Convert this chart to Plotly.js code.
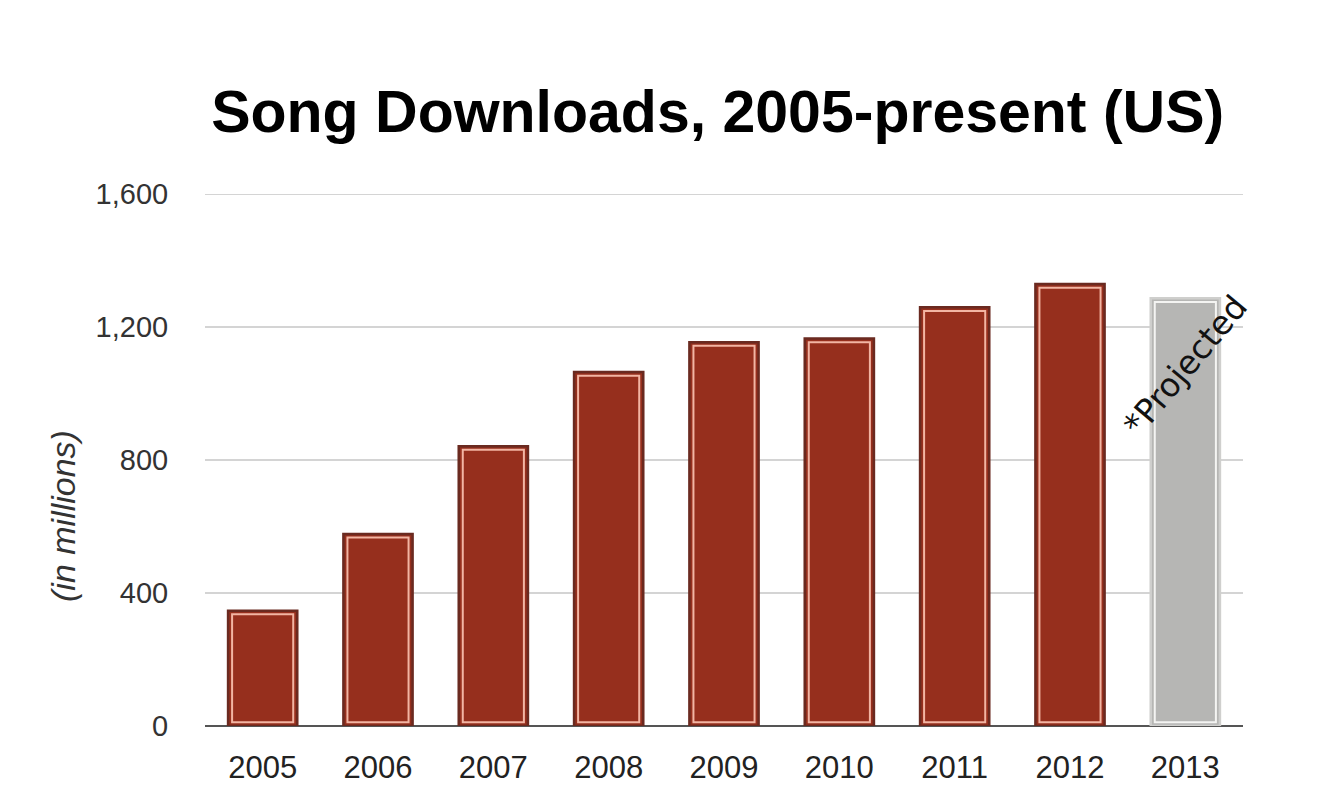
<!DOCTYPE html>
<html>
<head>
<meta charset="utf-8">
<script src="https://cdn.plot.ly/plotly-3.0.1.min.js"></script>
<style>
  html, body { margin: 0; padding: 0; background: #fff; }
  #chart { width: 1329px; height: 808px; }
</style>
</head>
<body>
<div id="chart"></div>
<script>
var years = ['2005', '2006', '2007', '2008', '2009', '2010', '2011', '2012', '2013'];
var downloads = [347, 578, 842, 1065, 1155, 1166, 1260, 1330, 1287];
var projected = [false, false, false, false, false, false, false, false, true];
var yTicks = [0, 400, 800, 1200, 1600];
var yTickText = ['0', '400', '800', '1,200', '1,600'];

var fillCols = projected.map(function(p) { return p ? '#b6b6b4' : '#962f1d'; });
var edgeCols = projected.map(function(p) { return p ? '#cfcfcd' : '#6a2a20'; });
var innerCols = projected.map(function(p) { return p ? '#f4f4f2' : '#f2b5a3'; });

// outer bar with dark edge
var outer = {
  x: years,
  y: downloads,
  type: 'bar',
  width: 0.6,
  marker: { color: fillCols, line: { color: edgeCols, width: 2.5 } },
  hoverinfo: 'x+y'
};

// inner light outline, inset a little from the outer edge
var inset = 11;
var inner = {
  x: years,
  y: downloads.map(function(v) { return v - 2 * inset; }),
  base: downloads.map(function() { return inset; }),
  type: 'bar',
  width: 0.53,
  marker: { color: 'rgba(0,0,0,0)', line: { color: innerCols, width: 2 } },
  hoverinfo: 'skip'
};

var font = 'Liberation Sans, Arial, sans-serif';

var layout = {
  width: 1329,
  height: 808,
  paper_bgcolor: '#fff',
  plot_bgcolor: '#fff',
  barmode: 'overlay',
  showlegend: false,
  margin: { l: 205, r: 86, t: 181, b: 82 },
  title: {
    text: '<b>Song Downloads, 2005-present (US)</b>',
    font: { family: font, size: 59, color: '#000' },
    x: 0.54, xanchor: 'center',
    y: 0.862, yanchor: 'middle'
  },
  xaxis: {
    type: 'category',
    range: [-0.5, 8.5],
    showgrid: false,
    showline: false,
    zeroline: false,
    ticks: 'outside', ticklen: 14, tickcolor: 'rgba(0,0,0,0)',
    tickfont: { family: font, size: 31, color: '#222' }
  },
  yaxis: {
    // a little headroom so the 1,600 grid line is drawn
    range: [0, 1640],
    tickvals: yTicks,
    ticktext: yTickText,
    showgrid: true,
    gridcolor: '#d4d4d4',
    gridwidth: 1.5,
    zeroline: true,
    zerolinecolor: '#555',
    zerolinewidth: 2,
    ticks: 'outside', ticklen: 30, tickcolor: 'rgba(0,0,0,0)',
    tickfont: { family: font, size: 29, color: '#333' }
  },
  annotations: [
    {
      // y axis title, sits a bit below the middle as in the original
      x: -0.137, y: 0.385, xref: 'paper', yref: 'paper',
      xanchor: 'center', yanchor: 'middle',
      text: '<i>(in millions)</i>',
      showarrow: false,
      textangle: -90,
      font: { family: font, size: 34, color: '#333' }
    },
    {
      x: 8, y: 1085, xref: 'x', yref: 'y',
      text: '*Projected',
      showarrow: false,
      textangle: -50,
      font: { family: 'DejaVu Sans, sans-serif', size: 33, color: '#111' }
    }
  ]
};

Plotly.newPlot('chart', [outer, inner], layout, { displayModeBar: false, staticPlot: true });
</script>
</body>
</html>
